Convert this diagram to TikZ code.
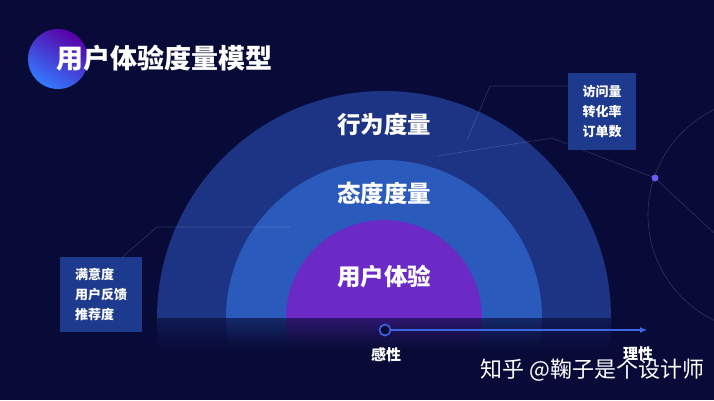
\documentclass[tikz,border=0pt]{standalone}
\usepackage{fontspec}
\setmainfont{Noto Sans CJK SC}
\usetikzlibrary{arrows.meta,positioning}
\definecolor{bgnavy}{HTML}{080B38}
\definecolor{ringout}{HTML}{1D3484}
\definecolor{ringmid}{HTML}{2A5ABB}
\definecolor{ringin}{HTML}{6B29C6}
\definecolor{tagblue}{HTML}{1E3A8E}
\definecolor{axisblue}{HTML}{3F66E6}
\definecolor{dotviolet}{HTML}{6A5CF0}
\begin{document}
\begin{tikzpicture}[
        x=1pt, y=-1pt, % pixel coordinates, y downwards
        title/.style = {text=white, anchor=west, font=\bfseries\fontsize{27}{30}\selectfont},
        ringlabel/.style = {text=white, font=\bfseries\fontsize{23.5}{26}\selectfont},
        tag/.style = {fill=tagblue, text=white, align=left, anchor=north west, inner sep=0pt,
                minimum width=68pt, minimum height=77pt, font=\bfseries\fontsize{13}{20}\selectfont},
        leader/.style = {draw=white, draw opacity=0.16, line width=0.6pt},
        marker/.style = {circle, draw=axisblue, fill=bgnavy, line width=1.6pt, minimum size=11pt, inner sep=0pt},
        axis/.style = {draw=axisblue, line width=1.2pt, -{Latex[length=7pt, width=6pt]}},
        axislabel/.style = {text=white, font=\bfseries\fontsize{15}{17}\selectfont},
        dot/.style = {circle, fill=dotviolet, minimum size=7pt, inner sep=0pt},
    ]

    \useasboundingbox (0,0) rectangle (714,400);
    \fill[bgnavy] (0,0) rectangle (714,400);

    % heading
    \shade[top color=violet!70!blue, bottom color=blue!65!cyan!80!white, shading angle=-30] (58,59) circle (30pt);
    \node[title] (heading) at (53,58) {用户体验度量模型};

    % three rings, down to the base line
    \begin{scope}
        \clip (0,0) rectangle (714,318);
        \fill[ringout] (384,318) circle (227pt);
        \fill[ringmid] (384,318) circle (158pt);
        \fill[ringin] (384,318) circle (98pt);
    \end{scope}
    \foreach \k in {0,...,9} { % dim reflection under the base line
        \pgfmathtruncatemacro{\pc}{36-3.6*\k}
        \begin{scope}
            \clip (0,318+3*\k) rectangle (714,321.4+3*\k);
            \fill[ringout!\pc!bgnavy] (384,318) circle (227pt);
            \fill[ringmid!\pc!bgnavy] (384,318) circle (158pt);
            \fill[ringin!\pc!bgnavy] (384,318) circle (98pt);
        \end{scope}
    }

    \node[ringlabel] (behaviour) at (384,124) {行为度量};
    \node[ringlabel] (attitude) at (384,193) {态度度量};
    \node[ringlabel] (experience) at (384,277) {用户体验};

    % decoration on the right
    \begin{scope}
        \clip (0,0) rectangle (714,400);
        \draw[leader] (765,215) circle (117pt);
    \end{scope}
    \node[dot] (hub) at (655,178) {};
    \draw[leader] (437,156) -- (552,138) -- (hub) -- (714,233);

    % side boxes
    \node[tag] (visits) at (568,73) {访问量\\转化率\\订单数};
    \node[tag, minimum width=82pt, minimum height=75pt] (survey) at (60,257) {满意度\\用户反馈\\推荐度};
    \coordinate (rbend) at (490,86);
    \coordinate (rfoot) at (467,140);
    \coordinate (lbend) at (157,227);
    \coordinate (lend) at (290,227);
    \draw[leader] (rfoot) -- (rbend) -- ([yshift=-13pt]visits.north west);
    \draw[leader] ([xshift=-20pt]survey.north east) -- (lbend) -- (lend);

    % axis
    \node[marker] (sense) at (385,330) {};
    \coordinate (reason) at (647,330);
    \draw[axis] (sense) -- (reason);
    \node[axislabel] (sensetext) at (386,355) {感性};
    \node[axislabel] (reasontext) at (638,354) {理性};

    \node[text=white, anchor=west, font=\fontsize{22}{24}\selectfont] (mark) at (477,370) {知乎 @鞠子是个设计师};
\end{tikzpicture}
\end{document}
